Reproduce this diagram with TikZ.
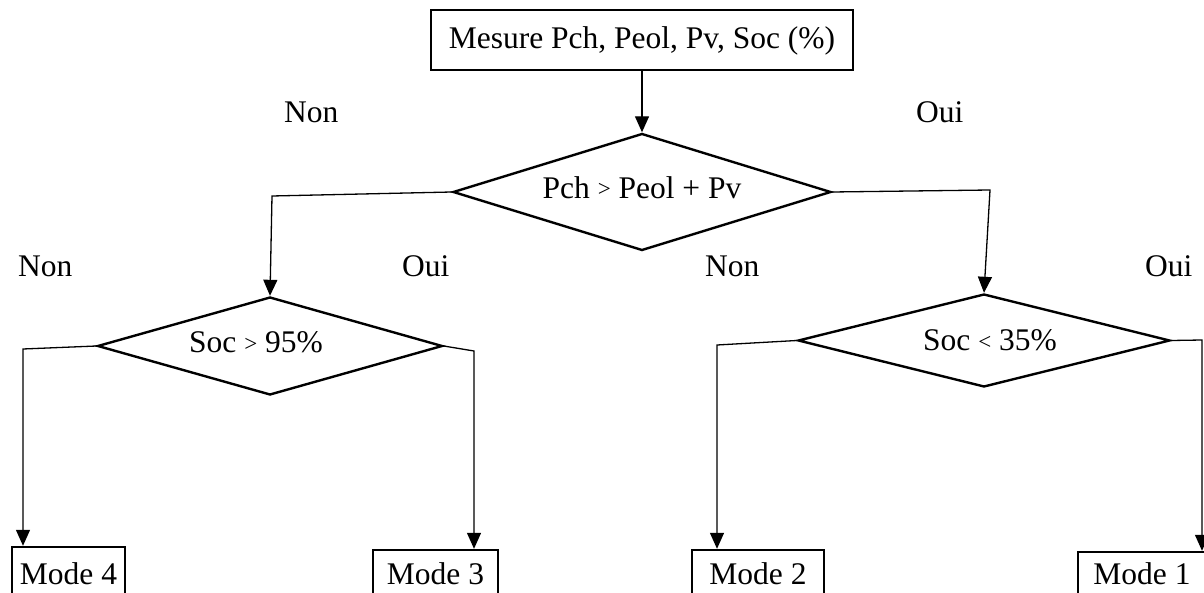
\documentclass[tikz,border=0pt]{standalone}
\usepackage{fontspec}
\setmainfont{Liberation Serif}
\usetikzlibrary{arrows.meta,shapes.geometric}
\newcommand{\gtsym}{\raisebox{1.5pt}{\fontsize{23}{23}\selectfont >}}
\newcommand{\ltsym}{\raisebox{1.5pt}{\fontsize{23}{23}\selectfont <}}
\begin{document}
\begin{tikzpicture}[x=1pt,y=-1pt,
  font=\fontsize{31.5}{36}\selectfont,
  box/.style={draw,line width=2.4pt,inner sep=0pt},
  dia/.style={draw,diamond,line width=2.4pt,inner sep=0pt,aspect=3,text height=21pt,text depth=8pt},
  mode/.style={box,anchor=base,inner ysep=0pt,text depth=40pt},
  conn/.style={line width=1.3pt},
  arr/.style={conn,-{Triangle[width=14pt,length=16pt]}},
  lab/.style={anchor=base west,inner sep=0pt}]
\useasboundingbox (0,0) rectangle (1204,593);
% top box
\node[box,minimum width=422pt,minimum height=60pt,text height=21pt,text depth=3pt] (top) at (642,40) {Mesure Pch, Peol, Pv, Soc (\%)};
% diamonds
\node[dia,minimum width=378pt,minimum height=117pt] (d1) at (642,192) {Pch \gtsym{} Peol + Pv};
\node[dia,minimum width=345pt,minimum height=98pt] (d2) at (270,346) {Soc \gtsym{} 95\%\hspace*{28pt}};
\node[dia,minimum width=372pt,minimum height=93pt,text depth=0pt] (d3) at (984,340.5) {\hspace*{12pt}Soc \ltsym{} 35\%};
% mode boxes
\node[mode,minimum width=113pt,text height=37pt] (m4) at (68.5,584) {Mode 4};
\node[mode,minimum width=125pt,text height=34pt] (m3) at (435.5,584) {Mode 3};
\node[mode,minimum width=132pt,text height=34pt] (m2) at (758,584) {Mode 2};
\node[mode,minimum width=128pt,text height=32pt] (m1) at (1142,584) {Mode 1};
% labels
\node[lab] (n1) at (284,123) {Non};
\node[lab] (o1) at (916,123) {Oui};
\node[lab] (n2) at (18,277) {Non};
\node[lab] (o2) at (402,277) {Oui};
\node[lab] (n3) at (705,277) {Non};
\node[lab] (o3) at (1145,277) {Oui};
% connectors
\draw[arr] (top.south) -- (d1.north);
\coordinate (c1) at (272,196);
\draw[arr] (d1.west) -- (c1) -- (d2.north);
\coordinate (c2) at (990,190);
\draw[arr] (d1.east) -- (c2) -- (d3.north);
\coordinate (c3) at (23,349);
\draw[arr] (d2.west) -- (c3) -- (c3 |- m4.north);
\coordinate (c4) at (474,351);
\draw[arr] (d2.east) -- (c4) -- (c4 |- m3.north);
\coordinate (c5) at (717,345);
\draw[arr] (d3.west) -- (c5) -- (c5 |- m2.north);
\coordinate (c6) at (1202,340);
\draw[arr] (d3.east) -- (c6) -- (c6 |- m1.north);
\end{tikzpicture}
\end{document}
